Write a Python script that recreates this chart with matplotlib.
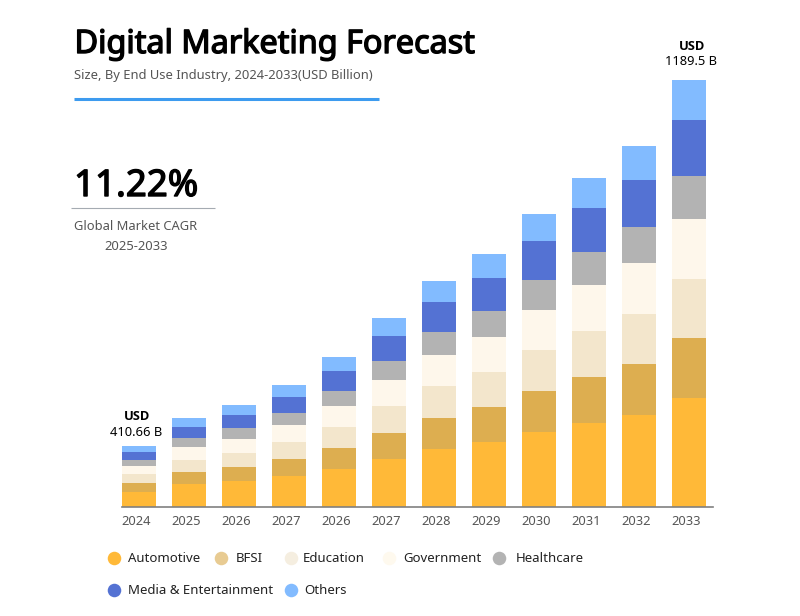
import numpy as np
import matplotlib
matplotlib.use("Agg")
import matplotlib.pyplot as plt
import matplotlib.patheffects as pe
from matplotlib.transforms import ScaledTranslation

plt.rcParams['font.family'] = ['Noto Sans', 'DejaVu Sans']

years = ['2024', '2025', '2026', '2027', '2026', '2027', '2028', '2029', '2030', '2031', '2032', '2033']

automotive = [41, 61.4, 69.8, 83.8, 104.1, 131.2, 159.1, 178.7, 206.6, 231.7, 254.9, 302.4]
bfsi = [24, 33.5, 39.9, 47.5, 58.6, 74.5, 87.4, 97.7, 114.5, 128.4, 141.6, 166.7]
education = [24.3, 35.5, 40.2, 47.5, 57.8, 73.4, 88.5, 98.6, 114.5, 128.4, 139.6, 165.6]
government = [22.3, 34.3, 39.1, 47.5, 58.6, 73.4, 87.4, 97.7, 113.6, 128.4, 142.4, 166.7]
healthcare = [16.8, 25.1, 29.6, 35.5, 41.9, 53, 64.2, 71.8, 82.6, 93, 100.5, 120]
media = [23.2, 32.7, 37.4, 44.7, 55.8, 69.8, 82.9, 93, 108, 121.2, 132.1, 157.2]
others = [15.9, 23.2, 26, 31.5, 39.1, 49.4, 58.6, 66.2, 75.4, 84.6, 94.1, 110.8]

series = [automotive, bfsi, education, government, healthcare, media, others]
names = ['Automotive', 'BFSI', 'Education', 'Government', 'Healthcare', 'Media & Entertainment', 'Others']
bar_colors = ['#FFB938', '#DDAE50', '#F3E6CC', '#FEF7EB', '#B3B3B3', '#5472D3', '#82BBFF']
legend_colors = ['#FFB938', '#E8CB92', '#F5EEE0', '#FEF9EE', '#B3B3B3', '#5472D3', '#82BBFF']

W, H = 800, 616
fig = plt.figure(figsize=(W / 100, H / 100), dpi=100)

# overlay in pixel coords for the text around the chart
over = fig.add_axes([0, 0, 1, 1])
over.set_xlim(0, W)
over.set_ylim(H, 0)
over.axis('off')

ax = fig.add_axes([122 / W, (H - 506.5) / H, 591 / W, 426.5 / H])
ax.patch.set_alpha(0)
bottom = np.zeros(len(years))
for vals, col in zip(series, bar_colors):
    ax.bar(range(len(years)), vals, 0.68, bottom=bottom, color=col, linewidth=0)
    bottom += np.array(vals)

ax.set_xlim(-0.34, 11.48)
ax.set_ylim(0, sum(s[-1] for s in series))
for s in ['top', 'left', 'right']:
    ax.spines[s].set_visible(False)
ax.spines['bottom'].set_color('#808080')
ax.spines['bottom'].set_linewidth(1.2)
ax.set_yticks([])
ax.set_xticks(range(len(years)))
ax.set_xticklabels(years, fontsize=9.3, color='#555555')
ax.tick_params(axis='x', length=0, pad=6)
for lab in ax.get_xticklabels():
    lab.set_transform(lab.get_transform() + ScaledTranslation(-2.5 / 100, 0, fig.dpi_scale_trans))

# Open Sans bold is fine for small text, for the big ones it is too wide
bold_family = ['Open Sans', 'DejaVu Sans']
heavy = [pe.withStroke(linewidth=1.0, foreground='black')]

over.text(74.5, 44.5, 'Digital Marketing Forecast', fontsize=23.3, color='black', va='center', path_effects=heavy)
over.text(74, 76, 'Size, By End Use Industry, 2024-2033(USD Billion)', fontsize=9.35, color='#555555', va='center')
over.plot([74, 379], [98.5, 98.5], color='#3D9BEF', lw=2.2, solid_capstyle='butt')

over.text(136, 187, '11.22%', fontsize=26.4, color='black', ha='center', va='center', path_effects=heavy)
over.plot([71, 215], [208, 208], color='#A5ABB2', lw=0.8, solid_capstyle='butt')
over.text(136, 226, 'Global Market CAGR', fontsize=9.3, color='#555555', ha='center', va='center')
over.text(136, 246, '2025-2033', fontsize=9.4, color='#555555', ha='center', va='center')

over.text(137, 416, 'USD', fontsize=9.3, fontweight='bold', family=bold_family, color='black', ha='center', va='center')
over.text(136, 432.5, '410.66 B', fontsize=9.3, color='black', ha='center', va='center')
over.text(692, 46, 'USD', fontsize=9.3, fontweight='bold', family=bold_family, color='black', ha='center', va='center')
over.text(691, 61.5, '1189.5 B', fontsize=9.3, color='black', ha='center', va='center')

# legend is laid out by hand, the rows are not evenly spaced
dots_x = [113.5, 221, 290.5, 388.5, 498.5, 113.5, 290.5]
labels_x = [127.5, 236, 303, 403, 515.5, 128, 304]
rows_y = [558, 558, 558, 558, 558, 590, 590]
for i in range(7):
    over.scatter(dots_x[i], rows_y[i], s=95, color=legend_colors[i], linewidth=0)
    over.text(labels_x[i], rows_y[i], names[i], fontsize=9.5, color='#222222', va='center')

fig.savefig('out.png', dpi=100)
